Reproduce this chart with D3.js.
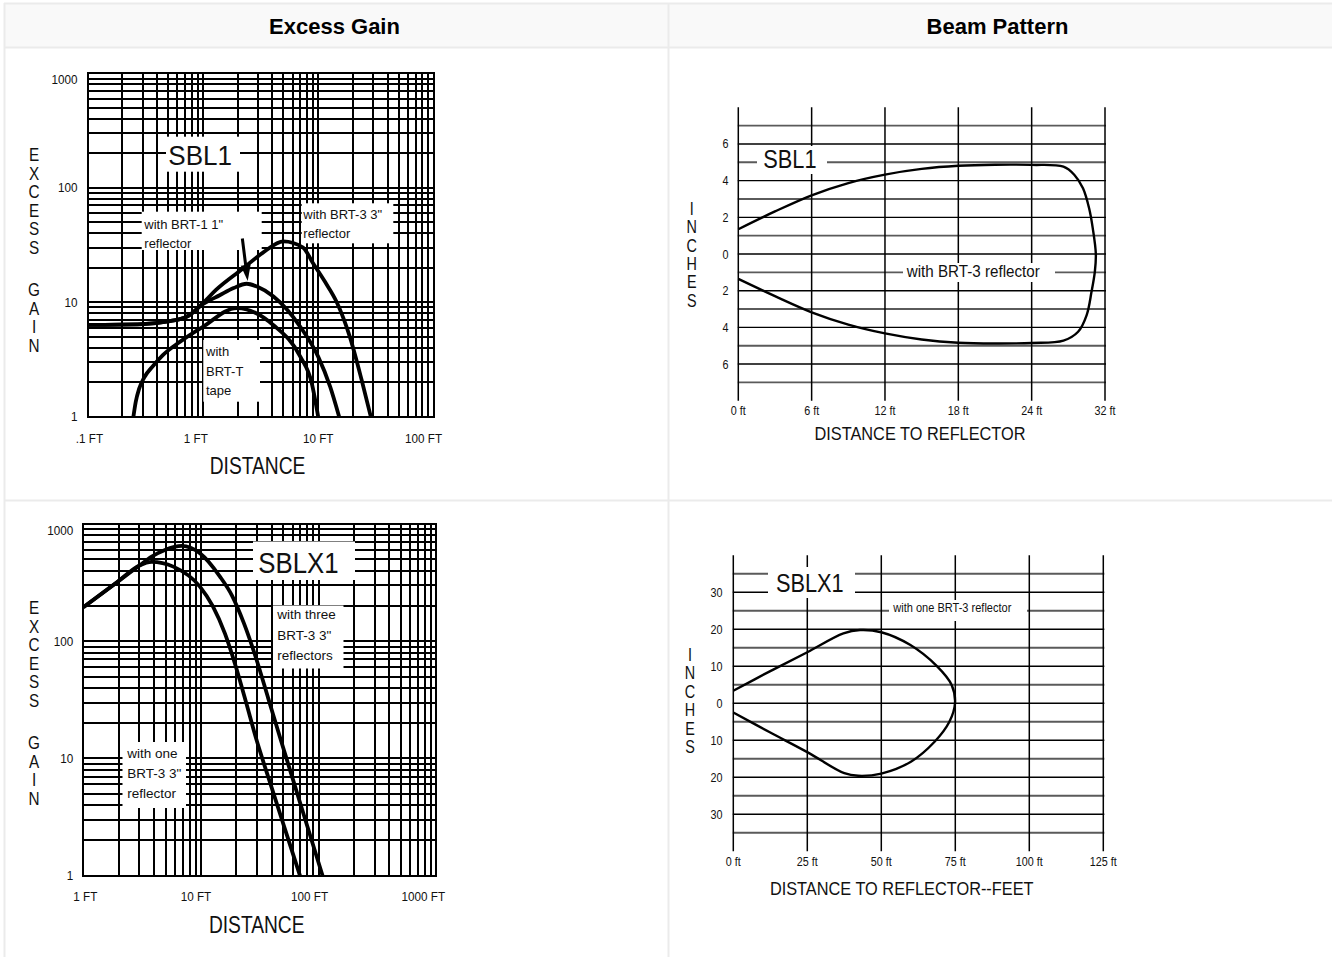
<!DOCTYPE html>
<html><head><meta charset="utf-8">
<script src="https://cdn.jsdelivr.net/npm/d3@7"></script>
<style>
html,body{margin:0;padding:0;background:#fff;}
svg{display:block;}
text{font-family:"Liberation Sans",Arial,Helvetica,sans-serif;fill:#111;}
text.hdr{font-weight:bold;fill:#000;}
</style></head><body>
<svg id="c" width="1332" height="957"></svg>
<script>
// ---------- DATA ----------
const headers = ["Excess Gain", "Beam Pattern"];

// SBL1 excess gain curves  [distance ft, excess gain]
const sbl1Brt3 = [[0.1,6.35],[0.3,6.45],[0.5,6.8],[0.73,7.5],[1,9.8],[1.3,12.8],[2.2,19.5],[3.3,27],[5,34],[7.4,30],[9,22],[11.5,15],[14.5,10],[18.8,5],[23.8,2.1],[28.6,1]];
const sbl1Brt1 = [[0.1,6.35],[0.3,6.45],[0.5,6.8],[0.73,7.5],[1,9.6],[1.4,11.5],[1.85,13.3],[2.4,14.5],[2.95,13.7],[4.1,11.2],[7,6.1],[10,3.35],[12.7,1.83],[15.2,1]];
const sbl1BrtT = [[0.25,1],[0.262,1.35],[0.28,1.75],[0.31,2.2],[0.373,2.8],[0.45,3.45],[0.636,4.53],[1,6.1],[1.97,8.9],[4.1,6.3],[7,3.35],[8.8,1.96],[10,1]];
const sbl1Arrow = [[2.2,36],[2.45,15.3]];

// SBLX1 excess gain curves
const sblx1Three = [[1,195],[1.96,322],[3,443],[3.81,527],[4.94,601],[6.86,650],[9.8,563],[14.5,356],[18.4,244],[23.2,142],[29.4,71.6],[37.2,32.9],[47,15.1],[60,6.8],[80.5,2.6],[108,1]];
const sblx1One = [[1,195],[1.96,322],[3,443],[3.81,476],[5.82,433],[9.8,292],[12.6,199],[16,116],[19.8,60.5],[24.1,30.4],[29.3,15],[38.9,6.1],[52,2.46],[69.4,1]];

// Beam patterns [distance, inches]
const sbl1Beam = [[0,1.35],[3,2.32],[6,3.2],[9,3.87],[12,4.33],[15,4.64],[18,4.81],[21,4.87],[24,4.86],[26.6,4.76],[27.5,4.31],[28.2,3.58],[28.7,2.49],[29,1.4],[29.25,0],[29.17,-0.96],[28.9,-2.05],[28.5,-3.33],[27.8,-4.24],[26.6,-4.72],[24,-4.85],[21,-4.88],[18,-4.84],[15,-4.66],[12,-4.33],[9,-3.85],[6,-3.18],[3,-2.3],[0,-1.36]];
const sblx1Beam = [[0,3.4],[12.5,8.7],[25,13.8],[37.2,18.9],[42.8,19.8],[50,19.2],[59.7,15.8],[68.7,10.1],[73.8,4.9],[74.9,0],[73,-5],[68,-10.4],[60,-15.8],[50,-19],[42.2,-19.6],[37.5,-18.9],[25,-13.2],[12.5,-7.9],[0,-2.5]];

// Tick values / labels
const gainYTicks = [1,10,100,1000];
const gainYLabels = ["1","10","100","1000"];
const sbl1XTicks = [0.1,1,10,100];
const sbl1XLabels = [".1 FT","1 FT","10 FT","100 FT"];
const sblx1XTicks = [1,10,100,1000];
const sblx1XLabels = ["1 FT","10 FT","100 FT","1000 FT"];
const beam1XTicks = [0,6,12,18,24,30];
const beam1XLabels = ["0 ft","6 ft","12 ft","18 ft","24 ft","32 ft"];
const beam1YTicks = [6,4,2,0,-2,-4,-6];
const beam1YLabels = ["6","4","2","0","2","4","6"];
const beam2XTicks = [0,25,50,75,100,125];
const beam2XLabels = ["0 ft","25 ft","50 ft","75 ft","100 ft","125 ft"];
const beam2YTicks = [30,20,10,0,-10,-20,-30];
const beam2YLabels = ["30","20","10","0","10","20","30"];

// Texts
const gainYTitle = "EXCESS GAIN";
const gainXTitle = "DISTANCE";
const beamYTitle = "INCHES";
const beam1XTitle = "DISTANCE TO REFLECTOR";
const beam2XTitle = "DISTANCE TO REFLECTOR--FEET";
const sbl1Name = "SBL1", sblx1Name = "SBLX1";
const noteBrt1 = ["with BRT-1 1\"","reflector"];
const noteBrt3 = ["with BRT-3 3\"","reflector"];
const noteBrtT = ["with","BRT-T","tape"];
const noteThree = ["with three","BRT-3 3\"","reflectors"];
const noteOne = ["with one","BRT-3 3\"","reflector"];
const beam1Note = "with BRT-3 reflector";
const beam2Note = "with one BRT-3 reflector";

// ---------- DRAWING ----------
const svg = d3.select("#c");

function T(g, x, y, s, size, o = {}) {
  const t = g.append("text")
    .attr("transform", `translate(${x},${y}) scale(${o.sx || 1},1)`)
    .attr("font-size", size)
    .attr("text-anchor", o.anchor || "start")
    .text(s);
  if (o.weight) t.attr("font-weight", o.weight);
  if (o.cls) t.attr("class", o.cls);
  return t;
}
function box(g, x, y, w, h) {
  g.append("rect").attr("x", x).attr("y", y).attr("width", w).attr("height", h).attr("fill", "#fff");
}
function multiline(g, x, y0, lines, size, step) {
  lines.forEach((s, i) => T(g, x, y0 + i * step, s, size));
}
function stacked(g, x, yTop, s, size, step, spaceStep, sx) {
  let y = yTop;
  for (const ch of s) {
    if (ch === " ") { y += spaceStep; continue; }
    T(g, x, y, ch, size, {anchor: "middle", sx: sx});
    y += step;
  }
}

// table frame
const tb = svg.append("g");
tb.append("rect").attr("x", 5).attr("y", 4).attr("width", 1327).attr("height", 43).attr("fill", "#f9f9f9");
const bc = "#ebebeb";
[[4, 3.5, 1332, 3.5], [4, 47.5, 1332, 47.5], [4, 500.5, 1332, 500.5], [4.5, 3, 4.5, 957], [668.5, 3, 668.5, 957]]
  .forEach(l => tb.append("line").attr("x1", l[0]).attr("y1", l[1]).attr("x2", l[2]).attr("y2", l[3]).attr("stroke", bc).attr("stroke-width", 2));
T(tb, 334.5, 33.5, headers[0], 22, {anchor: "middle", cls: "hdr"});
T(tb, 997.5, 33.5, headers[1], 22, {anchor: "middle", cls: "hdr"});

// ---------- log-log excess gain chart ----------
function gridVals(d) {
  const a = [];
  const e0 = Math.round(Math.log10(d[0])), e1 = Math.round(Math.log10(d[1]));
  for (let e = e0; e < e1; e++) {
    const b = Math.pow(10, e);
    for (let k = 1; k < 10; k++) a.push(+(k * b).toPrecision(6));
  }
  a.push(d[1]);
  return a;
}
function gainChart(c) {
  const g = svg.append("g");
  const x = d3.scaleLog().domain(c.xd).range(c.xr);
  const y = d3.scaleLog().domain([1, 1000]).range(c.yr);
  const top = y(1000), bot = y(1), left = x(c.xd[0]), right = x(c.xd[1]);
  gridVals(c.xd).forEach(v => {
    const px = Math.round(x(v));
    g.append("line").attr("x1", px).attr("x2", px).attr("y1", Math.round(top) - 1).attr("y2", Math.round(bot) + 1)
      .attr("stroke", "#000").attr("stroke-width", 2);
  });
  gridVals([1, 1000]).forEach(v => {
    const py = Math.round(y(v));
    g.append("line").attr("x1", Math.round(left) - 1).attr("x2", Math.round(right) + 1).attr("y1", py).attr("y2", py)
      .attr("stroke", "#000").attr("stroke-width", 2);
  });
  // label boxes
  c.boxes.forEach(b => box(g, b[0], b[1], b[2], b[3]));
  // ticks
  gainYTicks.forEach((v, i) => {
    const py = Math.max(y(v), top + 6);
    T(g, left - 10, py + 4.5, gainYLabels[i], 13, {anchor: "end", sx: 0.9});
  });
  c.xt.forEach((v, i) => T(g, x(v) + c.xtShift[i], c.xtY, c.xl[i], 13, {anchor: "middle", sx: 0.9}));
  T(g, c.titleX, c.titleY, gainXTitle, 24, {anchor: "middle", sx: 0.8});
  stacked(g, 34, c.yTitleTop, gainYTitle, 18, 18.6, 23.5, 0.85);
  // notes
  c.notes(g);
  // curves
  const line = d3.line().x(d => x(d[0])).y(d => y(d[1])).curve(d3.curveMonotoneX);
  c.series.forEach(s => g.append("path").attr("d", line(s)).attr("fill", "none")
    .attr("stroke", "#000").attr("stroke-width", 3.8).attr("stroke-linejoin", "round"));
  if (c.arrow) {
    const [a, b] = c.arrow.map(d => [x(d[0]), y(d[1])]);
    const dx = b[0] - a[0], dy = b[1] - a[1], L = Math.hypot(dx, dy);
    const ux = dx / L, uy = dy / L, hl = 16, hw = 5;
    const base = [b[0] - ux * hl, b[1] - uy * hl];
    g.append("line").attr("x1", a[0]).attr("y1", a[1]).attr("x2", base[0]).attr("y2", base[1])
      .attr("stroke", "#000").attr("stroke-width", 3);
    g.append("path").attr("d", `M${b[0]},${b[1]}L${base[0] - uy * hw},${base[1] + ux * hw}L${base[0] + uy * hw},${base[1] - ux * hw}Z`)
      .attr("fill", "#000");
  }
  return {x, y};
}

gainChart({
  xd: [0.1, 100], xr: [87.5, 433.5], yr: [416.7, 73.3],
  xt: sbl1XTicks, xl: sbl1XLabels, xtY: 443, xtShift: [2, -7, 0, -10],
  titleX: 257.5, titleY: 474, yTitleTop: 161,
  boxes: [[166, 136.7, 74, 35], [141.7, 211.7, 120, 38.3], [301.7, 203.3, 91.6, 40], [203.3, 340, 56.7, 61.7]],
  notes: g => {
    T(g, 168.3, 165, sbl1Name, 28, {sx: 0.93});
    multiline(g, 144.3, 228.7, noteBrt1, 13, 19.5);
    multiline(g, 303.3, 218.7, noteBrt3, 13, 19.5);
    multiline(g, 206, 355.7, noteBrtT, 13, 19.8);
  },
  series: [sbl1Brt3, sbl1Brt1, sbl1BrtT],
  arrow: sbl1Arrow
});

gainChart({
  xd: [1, 1000], xr: [83.3, 436.3], yr: [875.7, 524],
  xt: sblx1XTicks, xl: sblx1XLabels, xtY: 901, xtShift: [2, -5, -9, -13],
  titleX: 256.7, titleY: 933, yTitleTop: 614,
  boxes: [[253, 541.5, 102, 38.5], [273, 605.5, 70.5, 63], [122.5, 742, 63.5, 66]],
  notes: g => {
    T(g, 258.3, 573.3, sblx1Name, 30, {sx: 0.86});
    multiline(g, 277.3, 619, noteThree, 13.5, 20.5);
    multiline(g, 127.3, 757.7, noteOne, 13.5, 20);
  },
  series: [sblx1Three, sblx1One]
});

// ---------- beam pattern charts ----------
function beamChart(c) {
  const g = svg.append("g");
  const x = d3.scaleLinear().domain(c.xd).range(c.xr);
  const y = d3.scaleLinear().domain(c.yd).range(c.yr);
  d3.range(-c.hMax, c.hMax + 0.001, c.hStep).forEach(v => {
    const major = Math.abs(Math.round(v / c.hStep)) % 2 === 0;
    g.append("line").attr("x1", x(c.xd[0]) - 0.5).attr("x2", x(c.xd[1]) + 1).attr("y1", y(v)).attr("y2", y(v))
      .attr("stroke", major ? "#000" : "#5a5a5a").attr("stroke-width", major ? 1.4 : 1.9);
  });
  c.xt.forEach(v => g.append("line").attr("x1", x(v)).attr("x2", x(v)).attr("y1", y(c.yd[0])).attr("y2", y(c.yd[1]))
    .attr("stroke", "#000").attr("stroke-width", 1.5));
  c.boxes.forEach(b => box(g, b[0], b[1], b[2], b[3]));
  c.yt.forEach((v, i) => T(g, c.ytX, y(v) + 4.5, c.yl[i], 13, {anchor: "end", sx: 0.83}));
  c.xt.forEach((v, i) => T(g, x(v), c.xtY, c.xl[i], 13, {anchor: "middle", sx: 0.83}));
  T(g, c.titleX, c.titleY, c.title, 19, {anchor: "middle", sx: 0.86});
  stacked(g, c.yTitleX, c.yTitleTop, beamYTitle, 18, 18.4, 18.4, 0.8);
  c.notes(g);
  const line = d3.line().x(d => x(d[0])).y(d => y(d[1])).curve(d3.curveCatmullRom.alpha(0.5));
  g.append("path").attr("d", line(c.data)).attr("fill", "none").attr("stroke", "#000")
    .attr("stroke-width", 2.4).attr("stroke-linejoin", "round");
}

beamChart({
  xd: [0, 30], xr: [738.3, 1105], yd: [-8, 8], yr: [400.7, 107.3],
  hMax: 7, hStep: 1,
  xt: beam1XTicks, xl: beam1XLabels, yt: beam1YTicks, yl: beam1YLabels,
  ytX: 728.5, xtY: 414.5,
  title: beam1XTitle, titleX: 920, titleY: 440,
  yTitleX: 691.7, yTitleTop: 214.7,
  boxes: [[757, 146, 70, 28], [903, 263, 152, 19]],
  notes: g => {
    T(g, 763.3, 168.3, sbl1Name, 25, {sx: 0.87});
    T(g, 906.7, 277.3, beam1Note, 16, {sx: 0.95});
  },
  data: sbl1Beam
});

beamChart({
  xd: [0, 125], xr: [733.3, 1103.3], yd: [-40, 40], yr: [851.3, 555.3],
  hMax: 35, hStep: 5,
  xt: beam2XTicks, xl: beam2XLabels, yt: beam2YTicks, yl: beam2YLabels,
  ytX: 722.5, xtY: 865.5,
  title: beam2XTitle, titleX: 901.7, titleY: 895,
  yTitleX: 690, yTitleTop: 661,
  boxes: [[768, 567, 87, 31], [889, 600, 138, 21]],
  notes: g => {
    T(g, 776, 591.5, sblx1Name, 25, {sx: 0.87});
    T(g, 893.3, 611.8, beam2Note, 12, {sx: 0.92});
  },
  data: sblx1Beam
});
</script>
</body></html>
